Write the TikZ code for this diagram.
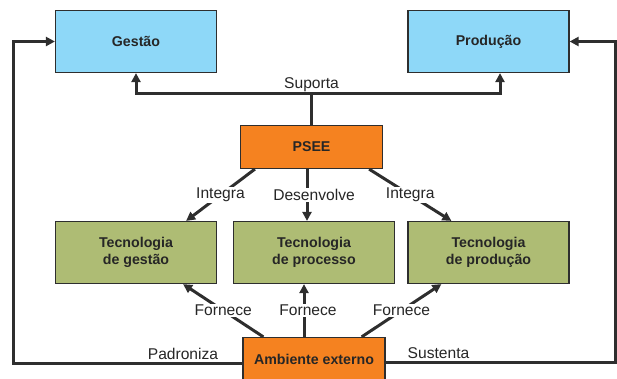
\documentclass[tikz,border=0pt]{standalone}
\usepackage{fontspec}
\setmainfont{Liberation Sans}
\usepackage{tikz}
\usetikzlibrary{
	positioning,
	arrows.meta
}
\definecolor{boxblue}{HTML}{8ED8F8}
\definecolor{boxorange}{HTML}{F58220}
\definecolor{boxgreen}{HTML}{AEBC74}
\definecolor{edgegray}{HTML}{2E2E2E}
\tikzset{
	box/.style={
		draw=edgegray,
		line width=1.2pt,
		align=center,
		inner sep=2pt,
		font=\fontsize{14.2}{16.8}\selectfont\bfseries,
		text=black!85
	},
	topbox/.style={box,fill=boxblue,minimum width=161pt,minimum height=62pt},
	techbox/.style={box,fill=boxgreen,minimum width=161pt,minimum height=62pt},
	corebox/.style={box,fill=boxorange,minimum width=142pt,minimum height=43pt},
	arr/.style={
		draw=edgegray,
		line width=3pt,
		-{Triangle[length=9pt,width=9pt]}
	},
	plain/.style={
		draw=edgegray,
		line width=3pt
	},
	lbl/.style={
		fill=white,
		inner sep=1pt,
		font=\fontsize{15.6}{18}\selectfont,
		text=black!85
	}
}

\begin{document}
\begin{tikzpicture}[x=1pt,y=-1pt]
		\clip (0,0) rectangle (617,378);
		\draw
			node[topbox]  (ges)   at (136,41.5)   {Gestão}
			node[topbox]  (prod)  at (488.5,41.5) {Produção}
			node[corebox] (psee)  at (311.5,147)  {PSEE}
			node[techbox] (tecg)  at (136,252.5)  {Tecnologia\\de gestão}
			node[techbox] (tecpr) at (314,252.5)  {Tecnologia\\de processo}
			node[techbox] (tecpd) at (488.5,252.5){Tecnologia\\de produção}
			node[corebox] (amb)   at (314,359)    {Ambiente externo}
		;

		% suporte
		\coordinate (sup) at (311.5,93);
		\draw[plain] (psee.north) -- (sup);
		\draw[arr] (sup) -| (ges.south);
		\draw[arr] (sup) -| ([xshift=11.5pt]prod.south);
		\node[lbl,fill=none,above=0pt of sup] (suplbl) {Suporta};

		% PSEE para as tecnologias
		\draw[arr] ([xshift=15pt]psee.south west) -- node[lbl] {Integra} ([xshift=-31pt]tecg.north east);
		\draw[arr] ([xshift=-4.5pt]psee.south) -- node[lbl,xshift=7pt] {Desenvolve} ([xshift=-7pt]tecpr.north);
		\draw[arr] ([xshift=-14pt]psee.south east) -- node[lbl] {Integra} ([xshift=44pt]tecpd.north west);

		% ambiente externo
		\draw[arr] ([xshift=21pt]amb.north west) -- node[lbl] {Fornece} ([xshift=-34pt]tecg.south east);
		\draw[arr] ([xshift=-10pt]amb.north) -- node[lbl,xshift=4pt] {Fornece} ([xshift=-10pt]tecpr.south);
		\draw[arr] ([xshift=-24pt]amb.north east) -- node[lbl] {Fornece} ([xshift=34pt]tecpd.south west);

		% realimentacao
		\draw[arr] ([yshift=-4.5pt]amb.west) -| ([xshift=-41pt]ges.west)
			node[lbl,fill=none,pos=0.13,above=1pt] {Padroniza} -- (ges.west);
		\draw[arr] ([yshift=-3pt]amb.east) -| ([xshift=46pt]prod.east)
			node[lbl,fill=none,pos=0.115,above=1pt] {Sustenta} -- (prod.east);
	\end{tikzpicture}
\end{document}
